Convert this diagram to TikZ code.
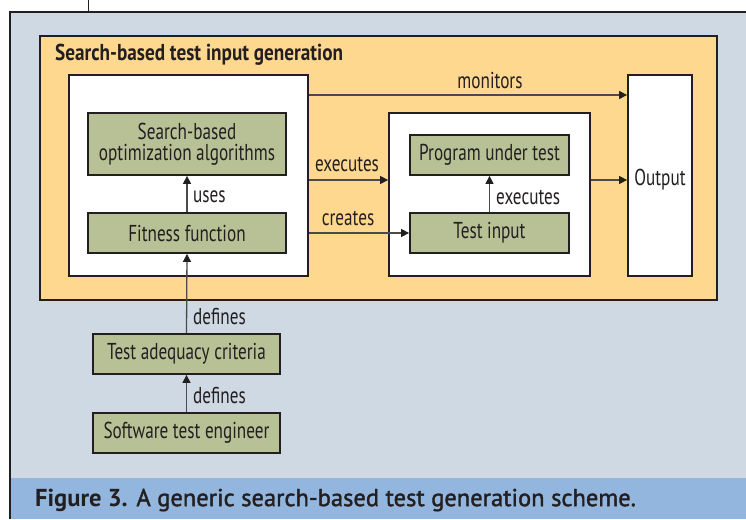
\documentclass[tikz,border=0pt]{standalone}
\usepackage{fontspec}
\setmainfont{PT Sans}[FakeStretch=0.747]
\newfontfamily\titlefont{PT Sans}[FakeStretch=0.835]
\newfontfamily\capfont{PT Sans}
\newfontfamily\capfontsemi{PT Sans}[FakeBold=1.5]
\usetikzlibrary{arrows.meta}
\definecolor{panel}{HTML}{CFD9E3}
\definecolor{capblue}{HTML}{93B6DE}
\definecolor{orangefill}{HTML}{FED88F}
\definecolor{greenfill}{HTML}{B8C196}
\definecolor{darkline}{HTML}{231F20}
\definecolor{arrline}{HTML}{4A4A4A}
\begin{document}
\begin{tikzpicture}[x=1pt,y=-1pt,
  every node/.style={font=\fontsize{23}{24}\selectfont, text=darkline},
  box/.style={draw=darkline, line width=1.8pt, inner sep=0pt, align=center},
  whitebox/.style={box, fill=white},
  greenbox/.style={box, fill=greenfill},
  arr/.style={draw=arrline, line width=1.3pt, -{Triangle[length=8pt,width=8pt,color=darkline]}},
  lbl/.style={inner sep=0pt}
]
\useasboundingbox (0,0) rectangle (746,519);
% background panel and caption band
\fill[panel] (10,12) rectangle (746,478);
\fill[capblue] (10,478) rectangle (746,519);
\draw[darkline, line width=1pt] (88,0) -- (88,12);
\draw[darkline, line width=2.4pt] (9.3,12) -- (746,12);
\draw[darkline, line width=1.4pt] (10,12) -- (10,519);

% outer orange box
\node[box, fill=orangefill, line width=2pt, minimum width=677pt, minimum height=264pt] (outer) at (378.5,168) {};
\node[lbl, anchor=west, font=\fontsize{23}{24}\titlefont\bfseries] (title) at (55,55) {Search-based test input generation};

% boxes
\node[whitebox, minimum width=239pt, minimum height=201pt] (leftbox) at (188.5,175.5) {};
\node[greenbox, minimum width=198pt, minimum height=62pt] (sboa) at (187,144) {Search-based\\[-3pt]optimization algorithms};
\node[greenbox, minimum width=198pt, minimum height=40pt] (fit) at (187,233) {Fitness function};
\node[whitebox, minimum width=201pt, minimum height=163pt] (midbox) at (489.5,194.5) {};
\node[greenbox, minimum width=159pt, minimum height=40pt] (put) at (489.5,155) {Program under test};
\node[greenbox, minimum width=159pt, minimum height=40pt] (ti) at (489.5,233) {Test input};
\node[whitebox, minimum width=64pt, minimum height=201pt] (output) at (660,175.5) {};
\node[lbl] (outtext) at (660,180) {Output};
\node[greenbox, minimum width=187pt, minimum height=40pt] (tac) at (186.5,354) {Test adequacy criteria};
\node[greenbox, minimum width=187pt, minimum height=40pt] (ste) at (186.5,433) {Software test engineer};

% connectors
\coordinate (ymon) at (0,95);
\coordinate (yexe) at (0,180);
\draw[arr] (leftbox.east |- ymon) -- (output.west |- ymon);
\draw[arr] (leftbox.east |- yexe) -- (midbox.west |- yexe);
\draw[arr] (midbox.east |- yexe) -- (output.west |- yexe);
\draw[arr] (leftbox.east |- ti.west) -- (ti.west);
\draw[arr] (fit.north) -- (sboa.south);
\draw[arr] (ti.north) -- (put.south);
\draw[arr] (tac.north) -- (fit.south);
\draw[arr] (ste.north) -- (tac.south);

% labels
\node[lbl] (lmon) at (490,80) {monitors};
\node[lbl] (lexe) at (347,164) {executes};
\node[lbl] (lcre) at (348,218) {creates};
\node[lbl, anchor=west] (luse) at (193,197) {uses};
\node[lbl, anchor=west] (lexe2) at (496,197) {executes};
\node[lbl, anchor=west] (ldef1) at (193,317) {defines};
\node[lbl, anchor=west] (ldef2) at (193,396) {defines};

% caption
\node[lbl, anchor=west, font=\fontsize{24.5}{26}\capfontsemi] (cap) at (35,500) {{\capfont\bfseries Figure 3.} A generic search-based test generation scheme.};
\end{tikzpicture}
\end{document}
